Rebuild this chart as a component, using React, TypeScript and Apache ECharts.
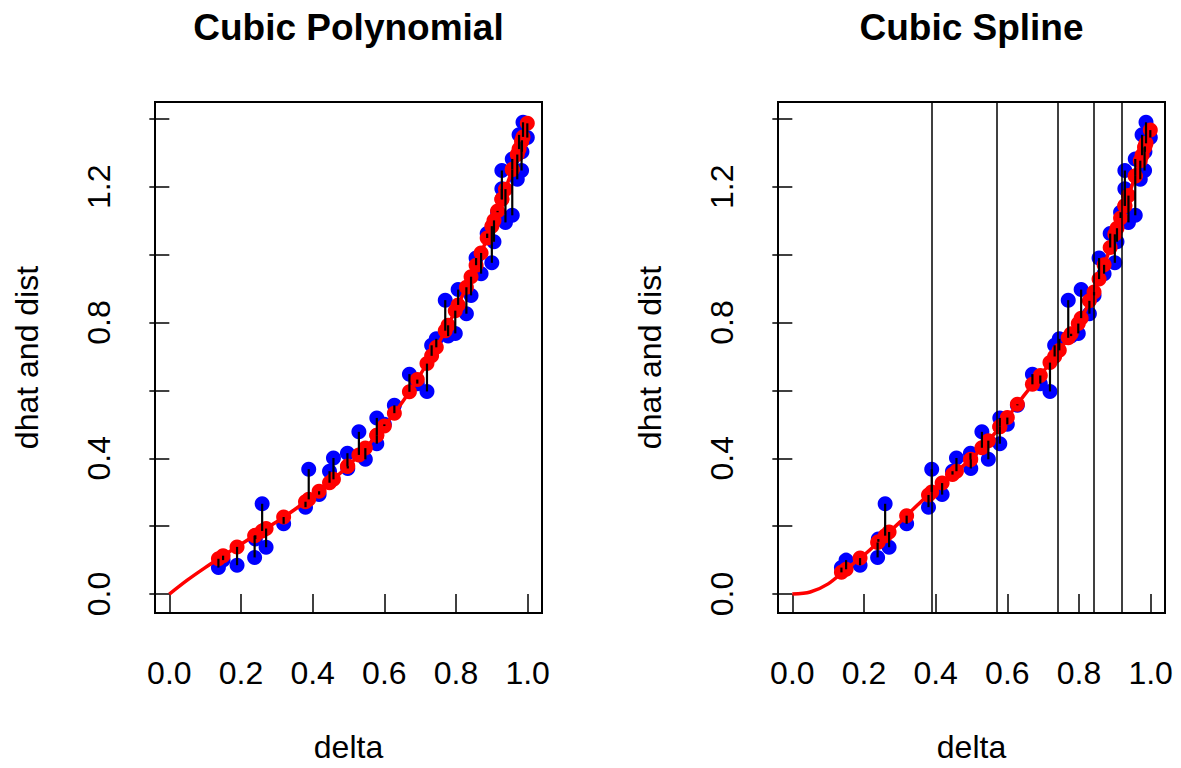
import React, { useEffect, useRef } from "react";
import * as echarts from "echarts";

// observations: delta (x) and dist (y)
const delta = [
  0.137, 0.150, 0.189, 0.238, 0.240, 0.259, 0.270, 0.319, 0.380, 0.389,
  0.418, 0.447, 0.458, 0.498, 0.497, 0.529, 0.547, 0.579, 0.579, 0.600,
  0.628, 0.670, 0.692, 0.719, 0.732, 0.745, 0.770, 0.778, 0.798, 0.806,
  0.829, 0.842, 0.856, 0.870, 0.887, 0.900, 0.906, 0.916, 0.928, 0.928,
  0.938, 0.957, 0.957, 0.971, 0.976, 0.984, 0.983, 0.987, 0.999,
];
const dist = [
  0.078, 0.100, 0.085, 0.108, 0.162, 0.266, 0.138, 0.207, 0.256, 0.368,
  0.293, 0.362, 0.401, 0.370, 0.415, 0.478, 0.397, 0.519, 0.443, 0.500,
  0.556, 0.648, 0.620, 0.597, 0.733, 0.752, 0.866, 0.760, 0.768, 0.897,
  0.826, 0.880, 0.990, 0.944, 1.062, 0.976, 1.038, 1.125, 1.248, 1.194,
  1.095, 1.116, 1.282, 1.222, 1.353, 1.303, 1.248, 1.390, 1.345,
];
// fitted values (red points), cubic polynomial
const dhatPoly = [
  0.104, 0.113, 0.139, 0.172, 0.173, 0.186, 0.193, 0.227, 0.272, 0.279,
  0.303, 0.328, 0.338, 0.377, 0.376, 0.410, 0.430, 0.468, 0.468, 0.495,
  0.533, 0.596, 0.632, 0.679, 0.702, 0.727, 0.776, 0.792, 0.835, 0.852,
  0.904, 0.935, 0.969, 1.005, 1.049, 1.084, 1.101, 1.129, 1.163, 1.163,
  1.193, 1.251, 1.251, 1.295, 1.311, 1.337, 1.333, 1.347, 1.387,
];
// fitted values (red points), cubic spline
const dhatSpline = [
  0.064, 0.073, 0.106, 0.152, 0.154, 0.172, 0.183, 0.231, 0.292, 0.301,
  0.327, 0.352, 0.362, 0.397, 0.396, 0.431, 0.452, 0.493, 0.493, 0.520,
  0.559, 0.618, 0.644, 0.682, 0.700, 0.718, 0.755, 0.767, 0.797, 0.813,
  0.864, 0.890, 0.928, 0.970, 1.021, 1.060, 1.078, 1.108, 1.144, 1.144,
  1.174, 1.232, 1.232, 1.277, 1.293, 1.319, 1.316, 1.328, 1.367,
];
// red fitted curves read along the x range
const curveX = [
  0, 0.05, 0.1, 0.15, 0.2, 0.25, 0.3, 0.35, 0.4, 0.45, 0.5,
  0.55, 0.6, 0.65, 0.7, 0.75, 0.8, 0.85, 0.9, 0.95, 1.0,
];
const polyCurve = [
  0, 0.041, 0.078, 0.113, 0.147, 0.180, 0.213, 0.249, 0.288, 0.331, 0.379,
  0.433, 0.495, 0.565, 0.646, 0.736, 0.839, 0.954, 1.084, 1.229, 1.390,
];
const splineCurve = [
  0, 0.006, 0.030, 0.073, 0.115, 0.163, 0.212, 0.263, 0.312, 0.355, 0.399,
  0.455, 0.520, 0.590, 0.655, 0.725, 0.800, 0.910, 1.060, 1.210, 1.370,
];
const knots = [0.385, 0.566, 0.74, 0.836, 0.924];
const xTicks = [0, 0.2, 0.4, 0.6, 0.8, 1.0];
const yTicks = [0, 0.2, 0.4, 0.6, 0.8, 1.0, 1.2, 1.4];
const yLabels = [0, 0.4, 0.8, 1.2];
const titles = ["Cubic Polynomial", "Cubic Spline"];
const xName = "delta";
const yName = "dhat and dist";

const FONT = "'Liberation Sans', Arial, Helvetica, sans-serif";

export default function App() {
  const ref = useRef<HTMLDivElement>(null);
  useEffect(() => {
    if (!ref.current) return;
    const chart = echarts.init(ref.current, undefined, { renderer: "svg" });
    const grids = [
      { left: 155, top: 102, width: 387, height: 512 },
      { left: 778, top: 102, width: 387, height: 512 },
    ];
    const xAxes = grids.map((_, i) => ({
      type: "value",
      gridIndex: i,
      min: -0.04,
      max: 1.04,
      name: xName,
      nameLocation: "middle",
      nameGap: 118,
      nameTextStyle: { fontSize: 32, color: "#000", fontFamily: FONT },
      axisLine: { show: false },
      splitLine: { show: false },
      axisTick: {
        show: true,
        length: 20,
        customValues: xTicks,
        lineStyle: { color: "#000", width: 1.5 },
      },
      axisLabel: {
        show: true,
        customValues: xTicks,
        margin: 44,
        fontSize: 32,
        color: "#000",
        fontFamily: FONT,
        formatter: (v: number) => v.toFixed(1),
      },
    }));
    const yAxes = grids.map((_, i) => ({
      type: "value",
      gridIndex: i,
      min: -0.0558,
      max: 1.4498,
      name: yName,
      nameLocation: "middle",
      nameRotate: 90,
      nameGap: 112,
      nameTextStyle: { fontSize: 32, color: "#000", fontFamily: FONT },
      axisLine: { show: false },
      splitLine: { show: false },
      axisTick: {
        show: true,
        length: 20,
        customValues: yTicks,
        lineStyle: { color: "#000", width: 1.5 },
      },
      axisLabel: {
        show: true,
        customValues: yLabels,
        rotate: 90,
        margin: 40,
        fontSize: 32,
        color: "#000",
        fontFamily: FONT,
        formatter: (v: number) => v.toFixed(1),
      },
    }));

    const series: any[] = [];
    [dhatPoly, dhatSpline].forEach((dhat, i) => {
      const curve = i === 0 ? polyCurve : splineCurve;
      series.push({
        type: "scatter",
        xAxisIndex: i,
        yAxisIndex: i,
        symbol: "circle",
        symbolSize: 15,
        itemStyle: { color: "#0000FF", opacity: 1 },
        data: delta.map((x, k) => [x, dist[k]]),
        z: 2,
        silent: true,
      });
      series.push({
        type: "line",
        xAxisIndex: i,
        yAxisIndex: i,
        showSymbol: false,
        smooth: 0.3,
        lineStyle: { color: "#FF0000", width: 3.5 },
        data: curveX.map((x, k) => [x, curve[k]]),
        z: 3,
        silent: true,
      });
      series.push({
        type: "scatter",
        xAxisIndex: i,
        yAxisIndex: i,
        symbol: "circle",
        symbolSize: 15,
        itemStyle: { color: "#FF0000", opacity: 1 },
        data: delta.map((x, k) => [x, dhat[k]]),
        z: 4,
        silent: true,
      });
      const seg: any = {
        type: "custom",
        xAxisIndex: i,
        yAxisIndex: i,
        data: delta.map((x, k) => [x, dist[k], dhat[k]]),
        encode: { x: 0, y: [1, 2] },
        renderItem: (_p: any, api: any) => {
          const a = api.coord([api.value(0), api.value(1)]);
          const b = api.coord([api.value(0), api.value(2)]);
          return {
            type: "line",
            shape: { x1: a[0], y1: a[1], x2: b[0], y2: b[1] },
            style: { stroke: "#000", lineWidth: 2.2 },
          };
        },
        z: 5,
        silent: true,
      };
      if (i === 1) {
        seg.markLine = {
          symbol: "none",
          silent: true,
          label: { show: false },
          lineStyle: { color: "#000", width: 1.5, type: "solid" },
          data: knots.map((k) => ({ xAxis: k })),
        };
      }
      series.push(seg);
    });

    chart.setOption({
      animation: false,
      backgroundColor: "#fff",
      grid: grids.map((g) => ({
        ...g,
        show: true,
        borderColor: "#000",
        borderWidth: 2,
        backgroundColor: "transparent",
      })),
      xAxis: xAxes,
      yAxis: yAxes,
      graphic: titles.map((t, i) => ({
        type: "text",
        left: undefined,
        x: grids[i].left + grids[i].width / 2,
        y: 27,
        style: {
          text: t,
          fill: "#000",
          font: `bold 37px ${FONT}`,
          textAlign: "center",
          textVerticalAlign: "middle",
        },
      })),
      series,
    });
    return () => chart.dispose();
  }, []);
  return (
    <div
      ref={ref}
      style={{ position: "absolute", left: 0, top: 0, width: 1181, height: 768 }}
    />
  );
}
